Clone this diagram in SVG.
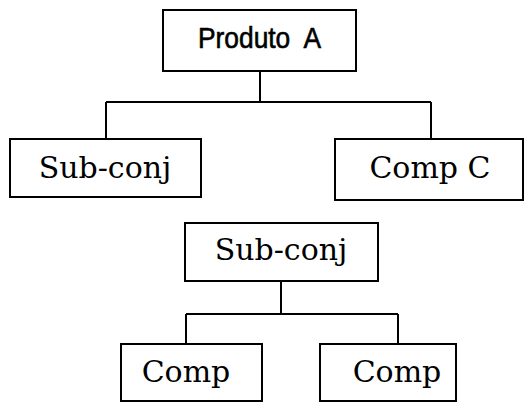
<svg xmlns="http://www.w3.org/2000/svg" width="525" height="403" viewBox="0 0 525 403">
  <style>
    .box { fill: #ffffff; stroke: #000000; stroke-width: 2; }
    .link { fill: none; stroke: #000000; stroke-width: 2; }
    .serif { font-family: "DejaVu Serif", "Liberation Serif", serif; font-size: 30px; fill: #000000; }
    .sans { font-family: "Liberation Sans Narrow", "Liberation Sans", Arial, sans-serif; font-size: 29px; fill: #000000; stroke: #000000; stroke-width: 0.6; }
  </style>
  <rect width="525" height="403" fill="#ffffff"/>

  <!-- tree connectors -->
  <g id="connectors">
    <path class="link" d="M260 71 V102 M106 102 H431 M106 102 V139 M431 102 V139"/>
    <path class="link" d="M281 281 V314 M186 314 H398 M186 314 V344 M398 314 V344"/>
  </g>

  <!-- first tree -->
  <g id="produto-a">
    <rect class="box" x="163" y="10" width="193" height="61"/>
    <text class="sans" x="198" y="48" textLength="123" lengthAdjust="spacingAndGlyphs" xml:space="preserve">Produto  A</text>
  </g>
  <g id="sub-conj">
    <rect class="box" x="10" y="139" width="191" height="58"/>
    <text class="serif" x="105" y="178" text-anchor="middle">Sub-conj</text>
  </g>
  <g id="comp-c">
    <rect class="box" x="335" y="139" width="188" height="61"/>
    <text class="serif" x="430" y="178" text-anchor="middle">Comp C</text>
  </g>

  <!-- second tree -->
  <g id="sub-conj-2">
    <rect class="box" x="185" y="223" width="193" height="58"/>
    <text class="serif" x="281" y="260" text-anchor="middle">Sub-conj</text>
  </g>
  <g id="comp-1">
    <rect class="box" x="121" y="344" width="141" height="57"/>
    <text class="serif" x="186" y="382" text-anchor="middle">Comp</text>
  </g>
  <g id="comp-2">
    <rect class="box" x="320" y="344" width="136" height="57"/>
    <text class="serif" x="397" y="382" text-anchor="middle">Comp</text>
  </g>
</svg>
